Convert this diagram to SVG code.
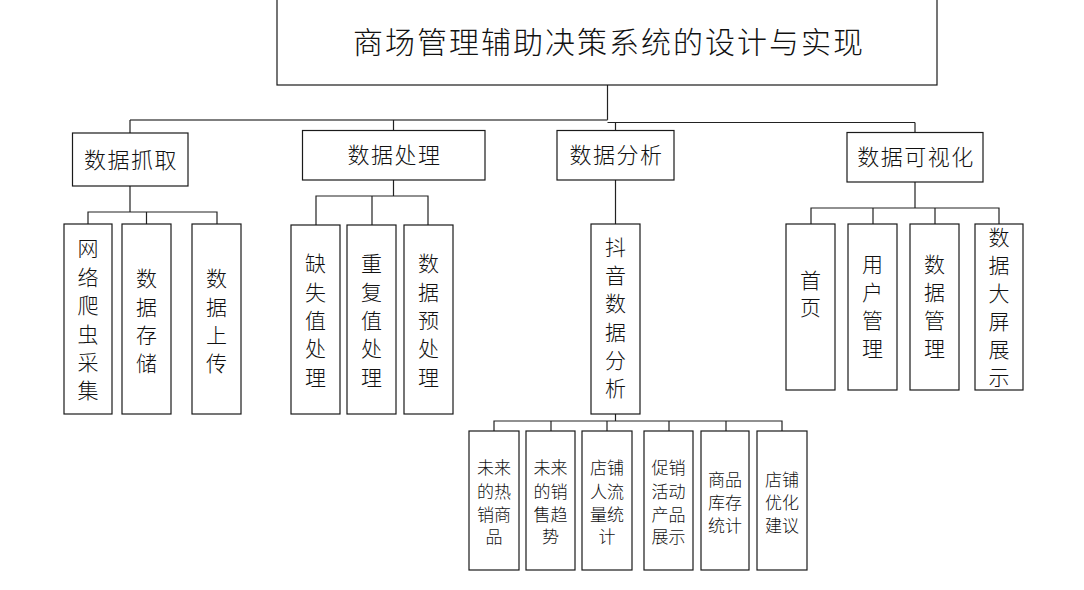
<svg xmlns="http://www.w3.org/2000/svg" width="1084" height="590" viewBox="0 0 1084 590">
<style>
.box{fill:#fff;stroke:#1a1a1a;stroke-width:1.2}
.t{font-family:"Liberation Sans","Noto Sans CJK SC",sans-serif;font-weight:300;fill:#111;text-anchor:middle}
.title{font-size:30px;letter-spacing:2px}
.l1{font-size:22px;letter-spacing:1.5px}
.v{font-size:21px}
.s{font-size:17px}
.c{fill:none;stroke:#222;stroke-width:1.2}
.cg{fill:none;stroke:#555;stroke-width:1.5}
</style>
<rect width="1084" height="590" fill="#fff"/>
<g id="connectors">
<path class="c" d="M607.5 85V120"/>
<path class="cg" d="M130 120H607.5"/>
<path class="c" d="M607.5 122.5H915"/>
<path class="c" d="M130 120V133M393.5 120V130.5M615.5 122.5V130.5M915 122.5V132.5"/>
<path class="c" d="M130 186V212M88 224V212H217V224M146.5 212V224"/>
<path class="c" d="M393.5 180V196M316 225V196H428V225M372 196V225"/>
<path class="c" d="M615.5 180V224"/>
<path class="c" d="M915 182V208M811 224V208H999V224M873 208V224M935 208V224"/>
<path class="c" d="M615.5 414V421M494 431V421H782V431M551 421V431M607 421V431M669 421V431M726 421V431"/>
</g>
<g id="root"><rect class="box" x="277" y="-2" width="660" height="87"/><text class="t title" x="609" y="53">商场管理辅助决策系统的设计与实现</text></g>
<g id="n-grab"><rect class="box" x="72.5" y="133" width="115.5" height="53"/><text class="t l1" x="131" y="167.5">数据抓取</text></g>
<g id="n-proc"><rect class="box" x="302.5" y="130.5" width="182.5" height="49.5"/><text class="t l1" x="394.5" y="163">数据处理</text></g>
<g id="n-anal"><rect class="box" x="557" y="130.5" width="117" height="49.5"/><text class="t l1" x="616.5" y="163">数据分析</text></g>
<g id="n-vis"><rect class="box" x="847" y="132.5" width="136" height="49.5"/><text class="t l1" x="916" y="165">数据可视化</text></g>

<g id="n-crawl"><rect class="box" x="64" y="224" width="48" height="190"/><text class="t v"><tspan x="88" y="256">网</tspan><tspan x="88" y="284.5">络</tspan><tspan x="88" y="313">爬</tspan><tspan x="88" y="341.5">虫</tspan><tspan x="88" y="370">采</tspan><tspan x="88" y="398">集</tspan></text></g>
<g id="n-store"><rect class="box" x="122" y="224" width="49" height="190"/><text class="t v"><tspan x="146.5" y="286">数</tspan><tspan x="146.5" y="315">据</tspan><tspan x="146.5" y="343">存</tspan><tspan x="146.5" y="371">储</tspan></text></g>
<g id="n-upload"><rect class="box" x="192" y="224" width="49" height="190"/><text class="t v"><tspan x="216.5" y="286">数</tspan><tspan x="216.5" y="315">据</tspan><tspan x="216.5" y="343">上</tspan><tspan x="216.5" y="371">传</tspan></text></g>

<g id="n-missing"><rect class="box" x="291" y="225" width="49" height="189"/><text class="t v"><tspan x="315.5" y="271">缺</tspan><tspan x="315.5" y="300">失</tspan><tspan x="315.5" y="328">值</tspan><tspan x="315.5" y="356">处</tspan><tspan x="315.5" y="385">理</tspan></text></g>
<g id="n-dup"><rect class="box" x="347" y="225" width="49" height="189"/><text class="t v"><tspan x="371.5" y="271">重</tspan><tspan x="371.5" y="300">复</tspan><tspan x="371.5" y="328">值</tspan><tspan x="371.5" y="356">处</tspan><tspan x="371.5" y="385">理</tspan></text></g>
<g id="n-pre"><rect class="box" x="404" y="225" width="49" height="189"/><text class="t v"><tspan x="428.5" y="271">数</tspan><tspan x="428.5" y="300">据</tspan><tspan x="428.5" y="328">预</tspan><tspan x="428.5" y="356">处</tspan><tspan x="428.5" y="385">理</tspan></text></g>

<g id="n-douyin"><rect class="box" x="591" y="224" width="49" height="190"/><text class="t v"><tspan x="615.5" y="255">抖</tspan><tspan x="615.5" y="283">音</tspan><tspan x="615.5" y="311">数</tspan><tspan x="615.5" y="340">据</tspan><tspan x="615.5" y="368">分</tspan><tspan x="615.5" y="396">析</tspan></text></g>

<g id="n-home"><rect class="box" x="786" y="224" width="49" height="166"/><text class="t v"><tspan x="810.5" y="288">首</tspan><tspan x="810.5" y="315">页</tspan></text></g>
<g id="n-user"><rect class="box" x="848" y="224" width="49" height="166"/><text class="t v"><tspan x="872.5" y="272">用</tspan><tspan x="872.5" y="300">户</tspan><tspan x="872.5" y="328">管</tspan><tspan x="872.5" y="356">理</tspan></text></g>
<g id="n-data"><rect class="box" x="910" y="224" width="49" height="166"/><text class="t v"><tspan x="934.5" y="272">数</tspan><tspan x="934.5" y="300">据</tspan><tspan x="934.5" y="328">管</tspan><tspan x="934.5" y="356">理</tspan></text></g>
<g id="n-screen"><rect class="box" x="975" y="224" width="48" height="166"/><text class="t v"><tspan x="999" y="244.5">数</tspan><tspan x="999" y="272.5">据</tspan><tspan x="999" y="300.5">大</tspan><tspan x="999" y="328.5">屏</tspan><tspan x="999" y="356.5">展</tspan><tspan x="999" y="384.5">示</tspan></text></g>

<g id="n-hot"><rect class="box" x="469" y="431" width="50" height="139"/><text class="t s"><tspan x="494" y="474">未来</tspan><tspan x="494" y="497.5">的热</tspan><tspan x="494" y="520.5">销商</tspan><tspan x="494" y="543">品</tspan></text></g>
<g id="n-trend"><rect class="box" x="526" y="431" width="49" height="139"/><text class="t s"><tspan x="550.5" y="474">未来</tspan><tspan x="550.5" y="497.5">的销</tspan><tspan x="550.5" y="520.5">售趋</tspan><tspan x="550.5" y="543">势</tspan></text></g>
<g id="n-flow"><rect class="box" x="582" y="431" width="50" height="139"/><text class="t s"><tspan x="607" y="474">店铺</tspan><tspan x="607" y="497.5">人流</tspan><tspan x="607" y="520.5">量统</tspan><tspan x="607" y="543">计</tspan></text></g>
<g id="n-promo"><rect class="box" x="644" y="431" width="49" height="139"/><text class="t s"><tspan x="668.5" y="474">促销</tspan><tspan x="668.5" y="497.5">活动</tspan><tspan x="668.5" y="520.5">产品</tspan><tspan x="668.5" y="543">展示</tspan></text></g>
<g id="n-stock"><rect class="box" x="701" y="431" width="48" height="139"/><text class="t s"><tspan x="725" y="486">商品</tspan><tspan x="725" y="509">库存</tspan><tspan x="725" y="531.5">统计</tspan></text></g>
<g id="n-optim"><rect class="box" x="757" y="431" width="50" height="139"/><text class="t s"><tspan x="782" y="486">店铺</tspan><tspan x="782" y="509">优化</tspan><tspan x="782" y="531.5">建议</tspan></text></g>
</svg>
